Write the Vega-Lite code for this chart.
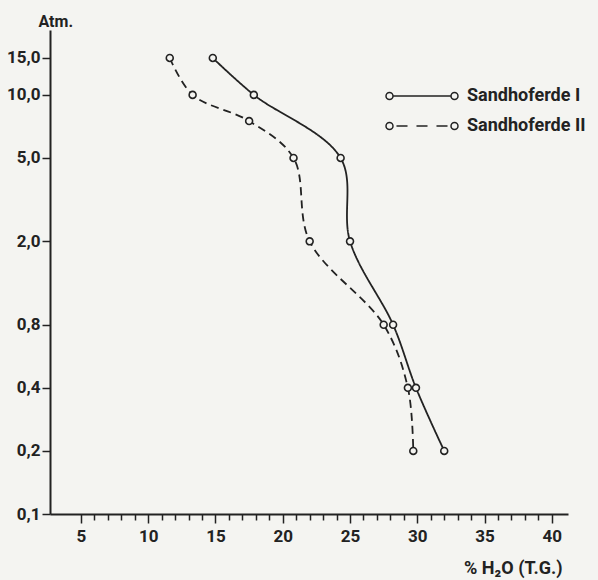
{
  "$schema": "https://vega.github.io/schema/vega-lite/v6.json",
  "width": 518,
  "height": 484,
  "autosize": "none",
  "padding": {"left": 50, "top": 30, "right": 30, "bottom": 66},
  "background": "#f4f4f1",
  "config": {
    "view": {"stroke": null},
    "font": "Roboto",
    "axis": {"domainColor": "#222", "tickColor": "#222", "labelColor": "#222", "titleColor": "#222", "grid": false}
  },
  "data": {
    "values": [
      {"series": "Sandhoferde I", "h2o": 14.8, "atm": 15},
      {"series": "Sandhoferde I", "h2o": 17.85, "atm": 10},
      {"series": "Sandhoferde I", "h2o": 24.3, "atm": 5},
      {"series": "Sandhoferde I", "h2o": 25.0, "atm": 2},
      {"series": "Sandhoferde I", "h2o": 28.2, "atm": 0.8},
      {"series": "Sandhoferde I", "h2o": 29.9, "atm": 0.4},
      {"series": "Sandhoferde I", "h2o": 32.0, "atm": 0.2},
      {"series": "Sandhoferde II", "h2o": 11.6, "atm": 15},
      {"series": "Sandhoferde II", "h2o": 13.3, "atm": 10},
      {"series": "Sandhoferde II", "h2o": 17.5, "atm": 7.5},
      {"series": "Sandhoferde II", "h2o": 20.8, "atm": 5},
      {"series": "Sandhoferde II", "h2o": 22.0, "atm": 2},
      {"series": "Sandhoferde II", "h2o": 27.5, "atm": 0.8},
      {"series": "Sandhoferde II", "h2o": 29.3, "atm": 0.4},
      {"series": "Sandhoferde II", "h2o": 29.7, "atm": 0.2}
    ]
  },
  "encoding": {
    "x": {
      "field": "h2o",
      "type": "quantitative",
      "scale": {"domain": [2.7, 41.2], "nice": false, "zero": false},
      "axis": {
        "values": [5,6,7,8,9,10,11,12,13,14,15,16,17,18,19,20,21,22,23,24,25,26,27,28,29,30,31,32,33,34,35,36,37,38,39,40],
        "labelExpr": "datum.value % 5 === 0 ? datum.label : ''",
        "tickSize": {"condition": {"test": "datum.value % 5 === 0", "value": 9}, "value": 6},
        "tickWidth": 1.5,
        "domainWidth": 2,
        "labelFontSize": 17,
        "labelFontWeight": "bold",
        "labelPadding": 5,
        "labelOverlap": false,
        "labelFlush": false,
        "title": "% H₂O (T.G.)",
        "titleX": 512,
        "titleY": 59,
        "titleAlign": "right",
        "titleBaseline": "alphabetic",
        "titleFontSize": 18,
        "titleFontWeight": "bold"
      }
    },
    "y": {
      "field": "atm",
      "type": "quantitative",
      "scale": {"type": "log", "domain": [0.1, 20.4], "nice": false},
      "axis": {
        "values": [0.1, 0.2, 0.4, 0.8, 2, 5, 10, 15],
        "labelExpr": "replace(format(datum.value, '.1f'), '.', ',')",
        "tickSize": 8,
        "tickWidth": 1.5,
        "domainWidth": 2,
        "labelPadding": 2,
        "labelFontSize": 17,
        "labelFontWeight": "bold",
        "labelFlush": false,
        "labelOverlap": false,
        "title": "Atm.",
        "titleAngle": 0,
        "titleX": -12,
        "titleY": -4,
        "titleAlign": "left",
        "titleBaseline": "alphabetic",
        "titleFontSize": 16,
        "titleFontWeight": "bold"
      }
    }
  },
  "layer": [
    {
      "mark": {"type": "line", "interpolate": "catmull-rom", "color": "#222", "strokeWidth": 1.8},
      "encoding": {
        "strokeDash": {
          "field": "series",
          "type": "nominal",
          "scale": {"domain": ["Sandhoferde II", "Sandhoferde I"], "range": [[8, 5], [1, 0]]},
          "legend": null
        }
      }
    },
    {
      "mark": {"type": "point", "shape": "circle", "filled": true, "fill": "#f4f4f1", "stroke": "#222", "strokeWidth": 1.6, "size": 48, "opacity": 1},
      "encoding": {"detail": {"field": "series", "type": "nominal"}}
    },
    {
      "mark": {"type": "point", "filled": false, "color": "#222", "strokeWidth": 1.5, "size": 256, "opacity": 0},
      "encoding": {
        "shape": {
          "field": "series",
          "type": "nominal",
          "scale": {
            "domain": ["Sandhoferde I", "Sandhoferde II"],
            "range": [
              "M-4.5,0 A0.4375,0.4375 0 1,1 -3.625,0 A0.4375,0.4375 0 1,1 -4.5,0 M-3.625,0 L3.625,0 M3.625,0 A0.4375,0.4375 0 1,1 4.5,0 A0.4375,0.4375 0 1,1 3.625,0",
              "M-4.5,0 A0.4375,0.4375 0 1,1 -3.625,0 A0.4375,0.4375 0 1,1 -4.5,0 M-3.19,0 L-1.81,0 M-0.69,0 L0.69,0 M1.81,0 L3.19,0 M3.625,0 A0.4375,0.4375 0 1,1 4.5,0 A0.4375,0.4375 0 1,1 3.625,0"
            ]
          },
          "legend": {
            "title": null,
            "orient": "none",
            "legendX": 363,
            "legendY": 57,
            "symbolOpacity": 1,
            "symbolStrokeWidth": 1.5,
            "symbolStrokeColor": "#222",
            "symbolFillColor": "transparent",
            "symbolSize": 256,
            "labelFontSize": 18,
            "labelFontWeight": "bold",
            "labelColor": "#222",
            "labelOffset": 36,
            "rowPadding": 12
          }
        }
      }
    }
  ]
}
